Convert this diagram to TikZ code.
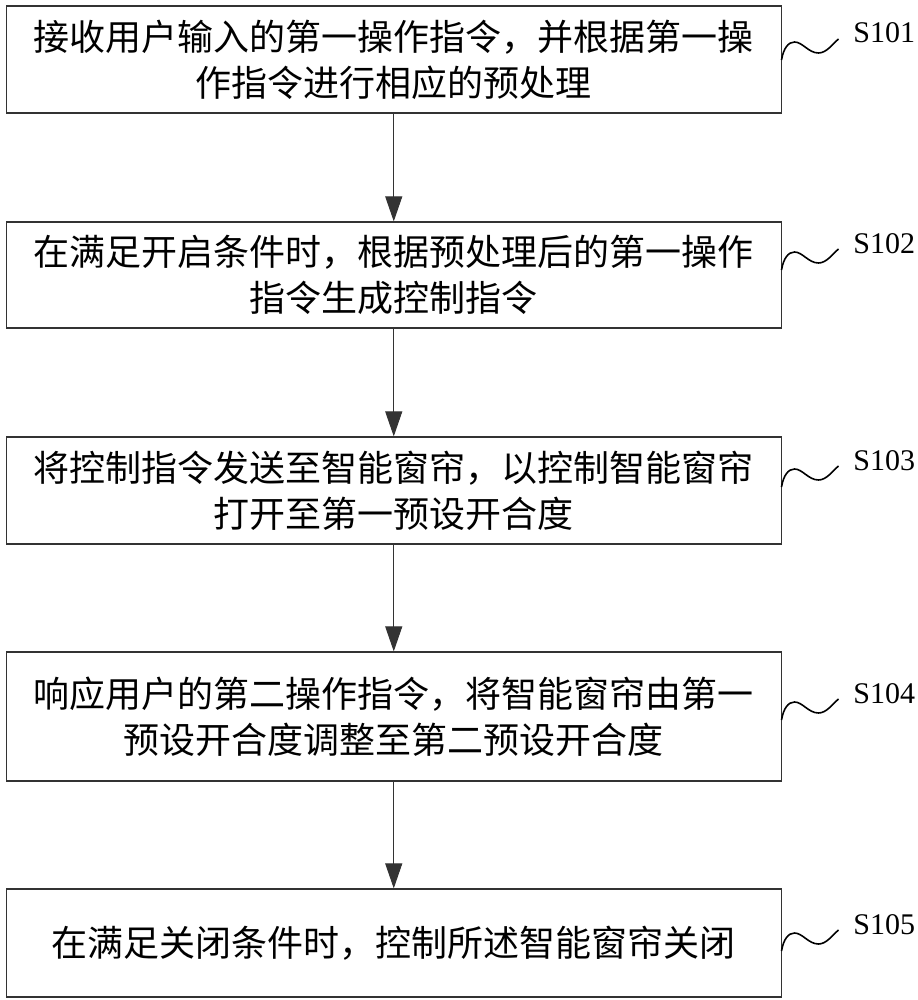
\documentclass[tikz,border=0pt]{standalone}
\usepackage{fontspec}
\setmainfont{Liberation Serif}
\newfontfamily\cjk{Noto Sans CJK SC}
\usetikzlibrary{arrows.meta,calc}
\begin{document}
\begin{tikzpicture}[x=0.5pt,y=-0.5pt,
  stepbox/.style={draw=black!80, line width=0.6pt, minimum width=387.5pt, inner sep=0pt,
    align=center, text width=380pt, font=\cjk\fontsize{18pt}{23pt}\selectfont},
  flow/.style={draw=black!80, line width=0.5pt, -{Triangle[width=8.5pt,length=12.5pt]}},
  wave/.style={line width=0.8pt},
  steplabel/.style={anchor=west, inner sep=0pt, font=\fontsize{15pt}{15pt}\selectfont}]
\useasboundingbox (0,0) rectangle (917,1000);

\node[stepbox, minimum height=53.5pt] (b1) at (393.75,59.5)
  {接收用户输入的第一操作指令，并根据第一操\\作指令进行相应的预处理};
\node[stepbox, minimum height=53pt] (b2) at (393.75,275)
  {在满足开启条件时，根据预处理后的第一操作\\指令生成控制指令};
\node[stepbox, minimum height=53.5pt] (b3) at (393.75,490.5)
  {将控制指令发送至智能窗帘，以控制智能窗帘\\打开至第一预设开合度};
\node[stepbox, minimum height=64.5pt] (b4) at (393.75,716.5)
  {响应用户的第二操作指令，将智能窗帘由第一\\预设开合度调整至第二预设开合度};
\node[stepbox, minimum height=54pt] (b5) at (393.75,943)
  {在满足关闭条件时，控制所述智能窗帘关闭};

\draw[flow] (b1.south) -- (b2.north);
\draw[flow] (b2.south) -- (b3.north);
\draw[flow] (b3.south) -- (b4.north);
\draw[flow] (b4.south) -- (b5.north);

\coordinate (w1) at (781.5,60);
\coordinate (w2) at (781.5,270);
\coordinate (w3) at (781.5,487);
\coordinate (w4) at (781.5,720);
\coordinate (w5) at (781.5,951);

\foreach \i in {1,...,5}{
  \draw[wave] (w\i) .. controls +(2,-12) and +(-6,0) .. ++(13,-18)
    .. controls +(8,0) and +(-10,0) .. ++(24,11)
    .. controls +(8,0) and +(-6,5) .. ++(20,-14);
}
\node[steplabel] (l1) at ($(w1)+(71.5,-27)$) {S101};
\node[steplabel] (l2) at ($(w2)+(71.5,-26)$) {S102};
\node[steplabel] (l3) at ($(w3)+(71.5,-26)$) {S103};
\node[steplabel] (l4) at ($(w4)+(71.5,-26)$) {S104};
\node[steplabel] (l5) at ($(w5)+(71.5,-26)$) {S105};
\end{tikzpicture}
\end{document}
